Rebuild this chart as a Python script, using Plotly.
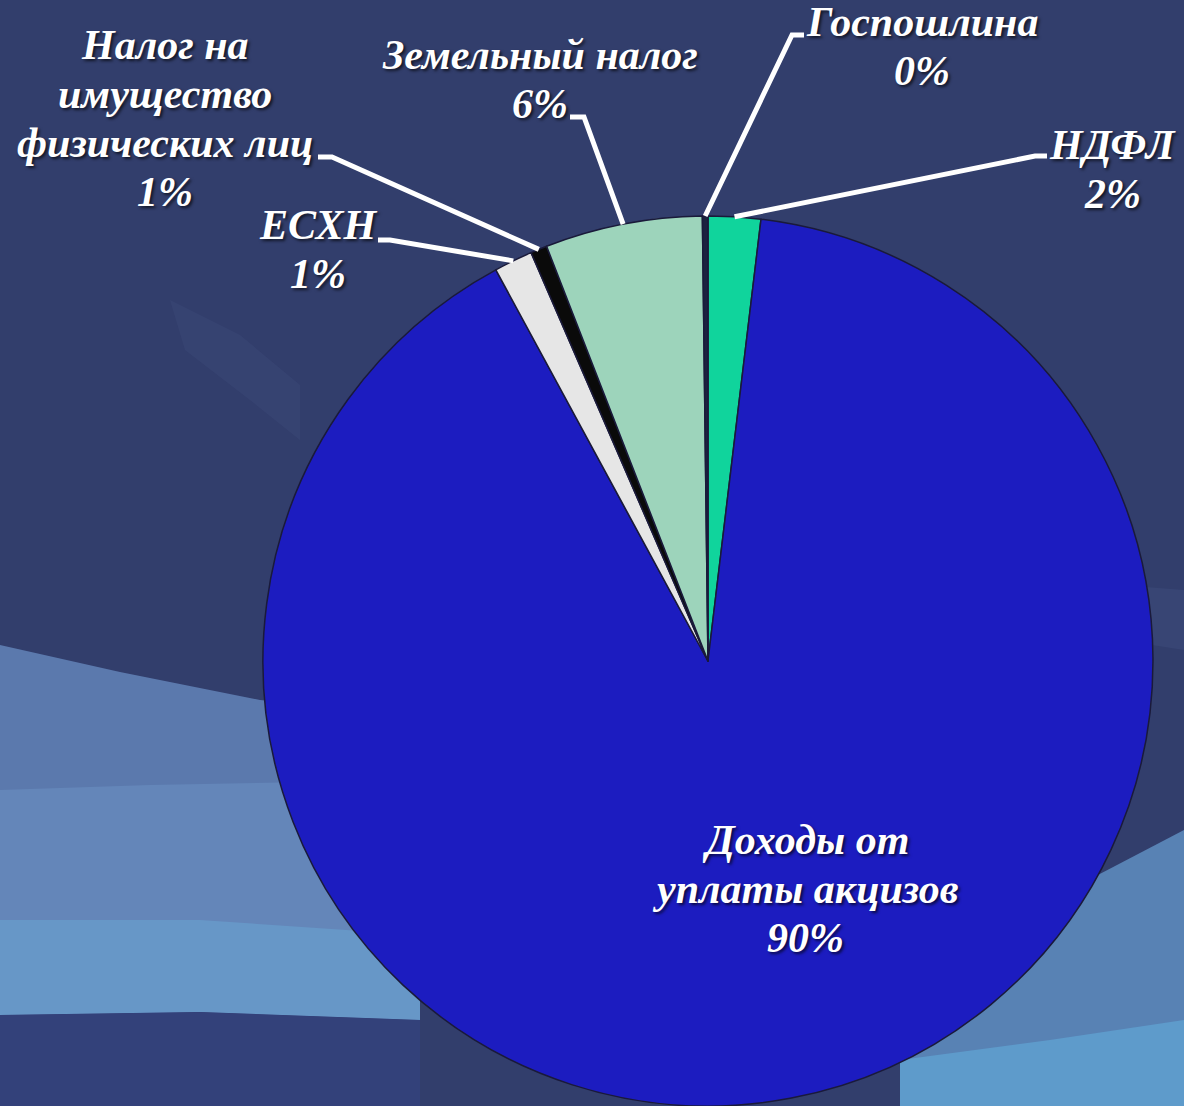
import math
import plotly.graph_objects as go

# ---------------- data ----------------
labels = ["НДФЛ", "Доходы от<br>уплаты акцизов", "ЕСХН", "Налог на<br>имущество<br>физических лиц",
          "Земельный налог", "Госпошлина"]
values = [1.9, 90.1, 1.4, 0.6, 5.7, 0.2]
colors = ["#10d49c", "#1c1cc0", "#e6e6e6", "#0a0a0a", "#9dd4bb", "#1b2240"]

# ---------------- geometry / style ----------------
W, H = 1184, 1106
dom_x = [0.2221, 0.9738]
dom_y = [0.0, 0.8047]
cx = (dom_x[0] + dom_x[1]) / 2 * W
cy = (1 - (dom_y[0] + dom_y[1]) / 2) * H
R = (dom_y[1] - dom_y[0]) * H / 2

# label placement: centre x and centre y of first text line (pixels), per slice
label_pos = [(1112, 145), (805, 840), (318, 225), (165, 45), (540, 55), (922, 22)]
LINE_GAP = 49
elbows = [[(1035, 156), (1047, 156)], None, [(390, 240), (378, 240)],
          [(332, 157), (318, 157)], [(584, 117), (570, 117)], [(792, 35), (804, 35)]]

font = dict(family="Liberation Serif, Times New Roman, serif", size=42, color="white",
            weight="bold", style="italic", shadow="2px 2px 3px rgba(0,0,0,0.65)")

fig = go.Figure()
fig.add_trace(go.Pie(
    labels=labels, values=values, sort=False, direction="clockwise", rotation=0,
    marker=dict(colors=colors, line=dict(color="#1a1a3a", width=1.5)),
    textinfo="none", hoverinfo="label+percent", showlegend=False,
    domain=dict(x=dom_x, y=dom_y),
))

def px2paper(x, y):
    return x / W, 1 - y / H

total = sum(values)
cum = 0.0
shapes = []
annotations = []
for i, (lab, v) in enumerate(zip(labels, values)):
    start = cum / total * 360
    cum += v
    end = cum / total * 360
    mid = math.radians((start + end) / 2)
    ex, ey = cx + R * math.sin(mid), cy - R * math.cos(mid)
    pct = round(v / total * 100)
    if elbows[i] is not None:
        pts = [(ex, ey)] + elbows[i]
        pp = [px2paper(*p) for p in pts]
        path = "M " + " L ".join(f"{a:.5f},{b:.5f}" for a, b in pp)
        shapes.append(dict(type="path", xref="paper", yref="paper", path=path,
                           line=dict(color="white", width=5), layer="above"))
    lines = lab.split("<br>") + [f"{pct}%"]
    x0, y0 = label_pos[i]
    for k, t in enumerate(lines):
        lx, ly = px2paper(x0, y0 + k * LINE_GAP)
        annotations.append(dict(x=lx, y=ly, xref="paper", yref="paper", showarrow=False,
                                text=t, font=font, align="center",
                                xanchor="center", yanchor="middle"))

# ---------------- background decoration ----------------
def poly(points, color):
    pp = [px2paper(*p) for p in points]
    path = "M " + " L ".join(f"{a:.5f},{b:.5f}" for a, b in pp) + " Z"
    return dict(type="path", xref="paper", yref="paper", path=path,
                fillcolor=color, line=dict(width=0), layer="below")

bg = [
    poly([(0, 645), (120, 672), (260, 700), (420, 715), (420, 1020), (200, 1012), (0, 1015)], "#5b79ad"),
    poly([(0, 790), (150, 785), (420, 780), (420, 1020), (200, 1012), (0, 1015)], "#6486b9"),
    poly([(0, 920), (200, 920), (420, 935), (420, 1020), (200, 1012), (0, 1015)], "#6797c7"),
    poly([(0, 1015), (200, 1012), (420, 1020), (420, 1106), (0, 1106)], "#33417a"),
    poly([(170, 300), (240, 335), (300, 385), (300, 440), (250, 400), (185, 350)], "rgba(90,110,160,0.12)"),
    poly([(900, 990), (1050, 900), (1184, 830), (1184, 1106), (900, 1106)], "#5882b4"),
    poly([(900, 1060), (1050, 1040), (1184, 1020), (1184, 1106), (900, 1106)], "#5e9bcb"),
    poly([(1120, 585), (1184, 590), (1184, 650), (1120, 640)], "rgba(80,100,150,0.2)"),
]

fig.update_layout(
    width=W, height=H, margin=dict(l=0, r=0, t=0, b=0),
    paper_bgcolor="#323e6c", plot_bgcolor="#323e6c",
    shapes=bg + shapes, annotations=annotations,
)
fig.write_html("out.html", config={"displayModeBar": False},
               post_script="document.body.style.margin='0';")
